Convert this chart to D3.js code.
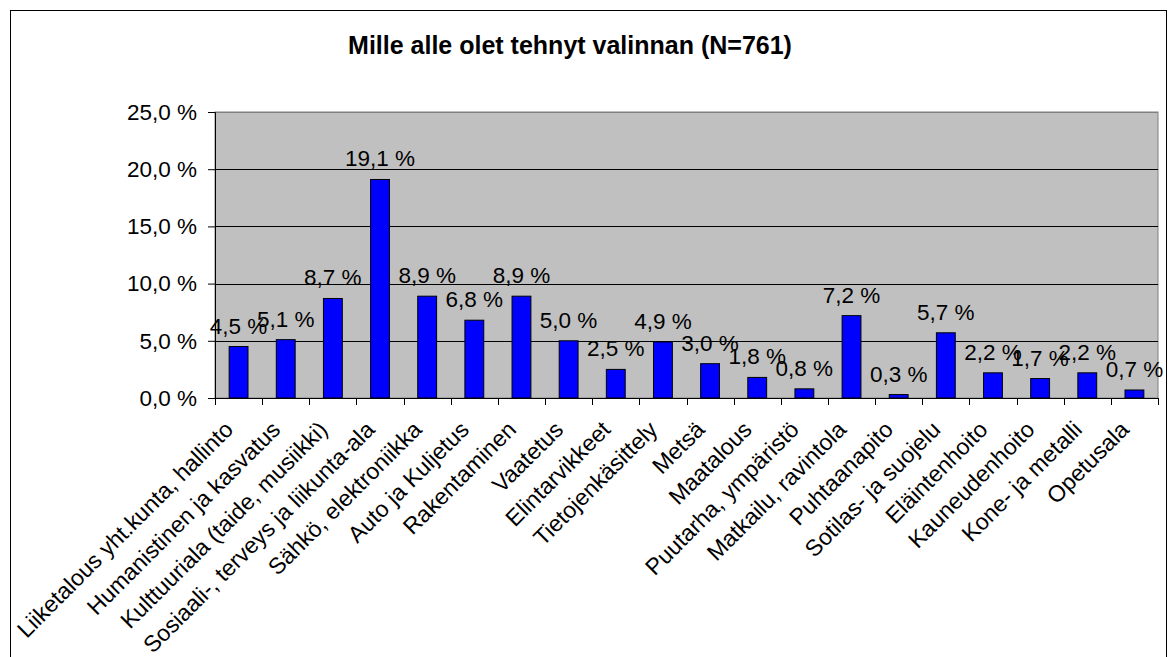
<!DOCTYPE html>
<html>
<head>
<meta charset="utf-8">
<script src="https://cdn.jsdelivr.net/npm/d3@7"></script>
<style>
  body { margin: 0; background: #fff; }
  text { font-family: "Liberation Sans", Arial, sans-serif; fill: #000; }
</style>
</head>
<body>
<div id="chart"></div>
<script>
// data
var categories = [
  "Liiketalous yht.kunta, hallinto", "Humanistinen ja kasvatus",
  "Kulttuuriala (taide, musiikki)", "Sosiaali-, terveys ja liikunta-ala",
  "Sähkö, elektroniikka", "Auto ja Kuljetus", "Rakentaminen", "Vaatetus",
  "Elintarvikkeet", "Tietojenkäsittely", "Metsä", "Maatalous",
  "Puutarha, ympäristö", "Matkailu, ravintola", "Puhtaanapito",
  "Sotilas- ja suojelu", "Eläintenhoito", "Kauneudenhoito",
  "Kone- ja metalli", "Opetusala"
];
var values = [4.5, 5.1, 8.7, 19.1, 8.9, 6.8, 8.9, 5.0, 2.5, 4.9, 3.0, 1.8, 0.8, 7.2, 0.3, 5.7, 2.2, 1.7, 2.2, 0.7];
var yTicks = [0, 5, 10, 15, 20, 25];
var title = "Mille alle olet tehnyt valinnan (N=761)";

var W = 1172, H = 657;
var margin = {top: 112, right: 14, bottom: 259, left: 215};
var width = W - margin.left - margin.right,
    height = H - margin.top - margin.bottom;

function fmt(v) { return v.toFixed(1).replace(".", ",") + " %"; }

var svgRoot = d3.select("#chart").append("svg")
  .attr("width", W)
  .attr("height", H);

// outer chart border
svgRoot.append("rect")
  .attr("x", 10.5).attr("y", 10.5)
  .attr("width", 1156).attr("height", 700)
  .attr("fill", "#fff").attr("stroke", "#000");

svgRoot.append("text")
  .attr("x", 570).attr("y", 54)
  .attr("text-anchor", "middle")
  .style("font-size", "25px").style("font-weight", "bold")
  .text(title);

var svg = svgRoot.append("g")
  .attr("transform", "translate(" + margin.left + "," + margin.top + ")");

var x = d3.scaleBand().domain(categories).range([0, width]).paddingInner(0.6).paddingOuter(0.3);
var xb = d3.scaleBand().domain(categories).range([0, width]); // category slots for ticks
var y = d3.scaleLinear().domain([0, 25]).range([height, 0]);

// plot area
svg.append("rect")
  .attr("x", 0).attr("y", 0)
  .attr("width", width).attr("height", height)
  .attr("fill", "#c0c0c0").attr("stroke", "#808080");

// gridlines
svg.selectAll(".grid")
  .data(yTicks.filter(function(d) { return d > 0; }))
  .enter().append("line")
    .attr("x1", 0).attr("x2", width)
    .attr("y1", function(d) { return Math.round(y(d)) + 0.5; })
    .attr("y2", function(d) { return Math.round(y(d)) + 0.5; })
    .attr("stroke", function(d) { return d == 25 ? "#808080" : "#000"; });

// bars
svg.selectAll(".bar")
  .data(values)
  .enter().append("rect")
    .attr("x", function(d, i) { return x(categories[i]); })
    .attr("y", function(d) { return y(d); })
    .attr("width", x.bandwidth())
    .attr("height", function(d) { return height - y(d); })
    .attr("fill", "#0000ff")
    .attr("stroke", "#000");

// data labels
svg.selectAll(".lbl")
  .data(values)
  .enter().append("text")
    .attr("x", function(d, i) { return xb(categories[i]) + xb.bandwidth() / 2; })
    .attr("y", function(d) { return y(d) - 13; })
    .attr("text-anchor", "middle")
    .style("font-size", "22.5px")
    .text(fmt);

// y axis
var yAxis = svg.append("g")
  .call(d3.axisLeft(y).tickValues(yTicks).tickSize(7).tickPadding(11).tickFormat(fmt));
yAxis.select(".domain").attr("stroke", "#000");
yAxis.selectAll("text").style("font-size", "22.5px").attr("font-family", null);

// x axis: ticks on category boundaries
var gx = svg.append("g").attr("transform", "translate(0," + height + ")");
gx.append("line").attr("x1", 0).attr("x2", width).attr("y1", 0.5).attr("y2", 0.5).attr("stroke", "#000");
gx.selectAll(".tk")
  .data(categories.concat(["end"]))
  .enter().append("line")
    .attr("x1", function(d, i) { return Math.round(i * xb.step()) + 0.5; })
    .attr("x2", function(d, i) { return Math.round(i * xb.step()) + 0.5; })
    .attr("y1", 0).attr("y2", 7)
    .attr("stroke", "#000");

gx.selectAll(".xl")
  .data(categories)
  .enter().append("text")
    .attr("transform", function(d) {
      return "translate(" + (xb(d) + xb.bandwidth() / 2 - 4) + ",33) rotate(-45)";
    })
    .attr("text-anchor", "end")
    .style("font-size", "23px")
    .text(function(d) { return d; });
</script>
</body>
</html>
